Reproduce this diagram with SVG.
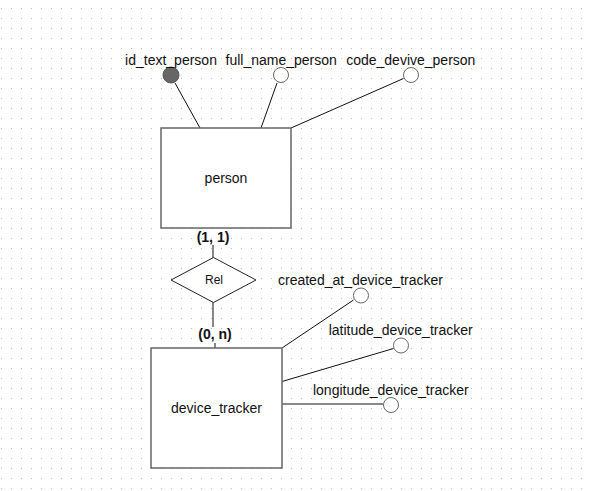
<svg xmlns="http://www.w3.org/2000/svg" width="589" height="491" viewBox="0 0 589 491">
<style>
.ent{fill:#fff;stroke:#666;stroke-width:1.5}
.attr{fill:#fff;stroke:#666;stroke-width:1}
.key{fill:#666;stroke:#555;stroke-width:1}
.rel{fill:#fff;stroke:#222;stroke-width:1}
.ln{stroke:#111;stroke-width:1;fill:none}
text{font-family:"Liberation Sans",Arial,sans-serif;font-size:14px;fill:#111;text-anchor:middle}
.card{font-weight:bold}
.small{font-size:12px}
</style>
<defs>
<pattern id="grid" width="10" height="10" patternUnits="userSpaceOnUse">
<rect x="1" y="8" width="1" height="1" fill="#bdbdbd"/>
</pattern>
</defs>
<rect width="589" height="491" fill="#fff"/>
<rect width="589" height="491" fill="url(#grid)"/>
<g id="connectors">
<line class="ln" x1="175" y1="83" x2="200" y2="128"/>
<line class="ln" x1="277" y1="83" x2="261" y2="128"/>
<line class="ln" x1="403.5" y1="78.5" x2="291" y2="128"/>
<line class="ln" x1="213" y1="245" x2="213" y2="258"/>
<line class="ln" x1="213" y1="302" x2="213" y2="327"/>
<line class="ln" x1="215" y1="343" x2="215" y2="348"/>
<line class="ln" x1="353.5" y1="300" x2="282" y2="348"/>
<line class="ln" x1="393.5" y1="348.5" x2="282" y2="381.5"/>
<line class="ln" x1="282" y1="404" x2="383" y2="404"/>
</g>
<g id="person">
<rect class="ent" x="161" y="128" width="130" height="100"/>
<text x="226" y="183">person</text>
</g>
<g id="device_tracker">
<rect class="ent" x="151" y="348" width="131" height="120"/>
<text x="216.5" y="413">device_tracker</text>
</g>
<g id="rel">
<polygon class="rel" points="213.5,257.5 256,280 213.5,302.5 171,280"/>
<text class="small" x="214" y="284">Rel</text>
</g>
<g id="card_person">
<text class="card" x="213" y="242">(1, 1)</text>
</g>
<g id="card_device">
<text class="card" x="215" y="339">(0, n)</text>
</g>
<g id="id_text_person">
<circle class="key" cx="171" cy="75" r="8"/>
<text x="171" y="65">id_text_person</text>
</g>
<g id="full_name_person">
<circle class="attr" cx="281" cy="75" r="7.5"/>
<text x="281.2" y="65">full_name_person</text>
</g>
<g id="code_devive_person">
<circle class="attr" cx="411" cy="75" r="7.5"/>
<text x="410.8" y="65">code_devive_person</text>
</g>
<g id="created_at_device_tracker">
<circle class="attr" cx="361" cy="295.5" r="7.5"/>
<text x="360.5" y="285">created_at_device_tracker</text>
</g>
<g id="latitude_device_tracker">
<circle class="attr" cx="401" cy="345.5" r="7.5"/>
<text x="400.7" y="335">latitude_device_tracker</text>
</g>
<g id="longitude_device_tracker">
<circle class="attr" cx="391" cy="405" r="7.5"/>
<text x="390.8" y="394.5">longitude_device_tracker</text>
</g>
</svg>
